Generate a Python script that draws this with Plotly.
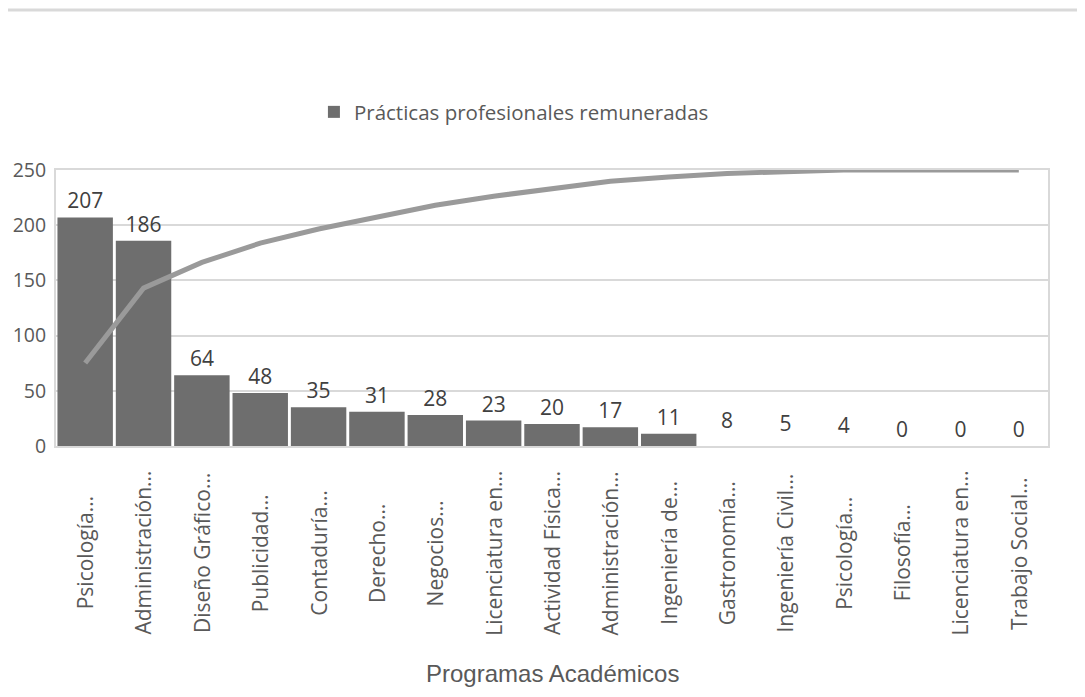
import plotly.graph_objects as go

# ---- data ----
programas = ["Psicología…", "Administración…", "Diseño Gráfico…", "Publicidad…",
             "Contaduría…", "Derecho…", "Negocios…", "Licenciatura en…",
             "Actividad Física…", "Administración…", "Ingeniería de…", "Gastronomía…",
             "Ingeniería Civil…", "Psicología…", "Filosofía…", "Licenciatura en…",
             "Trabajo Social…"]
practicas = [207, 186, 64, 48, 35, 31, 28, 23, 20, 17, 11, 8, 5, 4, 0, 0, 0]
# cumulative percentage (Pareto line), plotted on a 0-100% scale aligned with 0-250
acumulado_pct = [30.1, 57.2, 66.5, 73.5, 78.6, 83.1, 87.2, 90.5, 93.4, 95.9,
                 97.5, 98.7, 99.4, 100.0, 100.0, 100.0, 100.0]
y_ticks = [0, 50, 100, 150, 200, 250]

x_pos = list(range(len(programas)))
TEXT = "#595959"
BAR = "#6e6e6e"
bar_colors = [BAR if i < 11 else "rgba(0,0,0,0)" for i in x_pos]

fig = go.Figure()
fig.add_trace(go.Bar(
    x=x_pos, y=practicas, name="Prácticas profesionales remuneradas",
    marker=dict(color=bar_colors, line=dict(width=0)),
    text=[str(v) for v in practicas], textposition="outside",
    textfont=dict(family="Open Sans", size=21, color="#404040"),
    cliponaxis=False,
))
fig.add_trace(go.Scatter(
    x=x_pos, y=acumulado_pct, yaxis="y2", mode="lines",
    line=dict(color="#9a9a9a", width=5), showlegend=False,
))

annotations = []
for i, lab in enumerate(programas):
    annotations.append(dict(
        x=i, xref="x", y=-0.388, yref="paper", text=lab, showarrow=False,
        textangle=-90, xanchor="center", yanchor="middle",
        font=dict(family="Open Sans", size=21, color=TEXT),
    ))
annotations.append(dict(
    x=0.5, xref="paper", y=-0.825, yref="paper", text="Programas Académicos",
    showarrow=False, xanchor="center", yanchor="middle",
    font=dict(family="Liberation Sans, Arial", size=24, color=TEXT),
))

fig.update_layout(
    width=1085, height=697,
    margin=dict(l=48, r=45, t=162, b=259, autoexpand=False),
    paper_bgcolor="white", plot_bgcolor="white",
    bargap=0.05,
    showlegend=True,
    legend=dict(orientation="h", x=0.26, xanchor="left", y=1.21, yanchor="middle",
                font=dict(family="Open Sans", size=20.5, color=TEXT),
                itemwidth=30),
    xaxis=dict(range=[-0.5, len(programas) - 0.5], tickvals=x_pos, showticklabels=False,
               showgrid=False, zeroline=False, showline=True, linecolor="#d9d9d9",
               linewidth=2, mirror=True, automargin=False),
    yaxis=dict(range=[0, 250], tickvals=y_ticks, showgrid=True, gridcolor="#d9d9d9",
               gridwidth=2, zeroline=False, showline=True, linecolor="#d9d9d9",
               linewidth=2, mirror=True, ticklabelstandoff=4, automargin=False,
               tickfont=dict(family="Open Sans", size=19.5, color=TEXT)),
    yaxis2=dict(range=[0, 100], overlaying="y", side="right", visible=False),
    annotations=annotations,
    shapes=[dict(type="line", xref="paper", yref="paper", x0=-0.1, x1=1.1,
                 y0=1.58, y1=1.58, line=dict(color="#d9d9d9", width=3))],
)

fig.write_html("out.html")
